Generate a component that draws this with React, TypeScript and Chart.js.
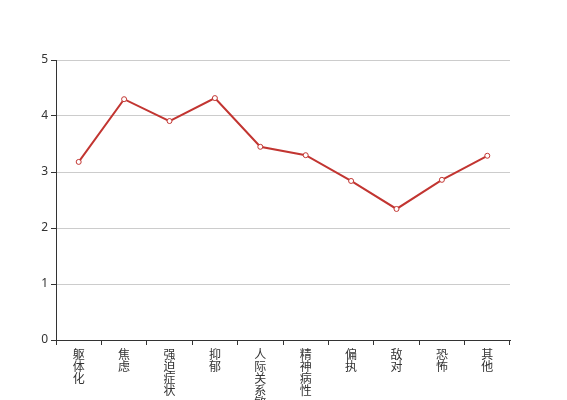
import React, { useEffect, useRef } from "react";
import { Chart, registerables } from "chart.js";

Chart.register(...registerables);

const categories = ["躯体化", "焦虑", "强迫症状", "抑郁", "人际关系敏感", "精神病性", "偏执", "敌对", "恐怖", "其他"];
const values = [3.18, 4.3, 3.91, 4.32, 3.45, 3.3, 2.84, 2.34, 2.86, 3.29];
const yTicks = [0, 1, 2, 3, 4, 5];

export default function App() {
  const ref = useRef<HTMLCanvasElement>(null);
  useEffect(() => {
    document.body.style.margin = "0";
    const ctx = ref.current!;
    const font = { family: "'Noto Sans', 'Noto Sans CJK SC', sans-serif", size: 12 };
    const chart = new Chart(ctx, {
      type: "line",
      data: {
        labels: categories.map((c) => c.split("")),
        datasets: [
          {
            data: values,
            borderColor: "#c23531",
            backgroundColor: "#ffffff",
            pointBackgroundColor: "#ffffff",
            pointBorderColor: "#c23531",
            pointBorderWidth: 1,
            pointRadius: 2.5,
            borderWidth: 2,
            tension: 0,
            fill: false,
          },
        ],
      },
      options: {
        responsive: false,
        animation: false,
        layout: { padding: { top: 60, right: 57, left: 0, bottom: 0 } },
        plugins: { legend: { display: false }, tooltip: { enabled: false } },
        scales: {
          x: {
            offset: true,
            grid: {
              offset: true,
              display: true,
              drawOnChartArea: false,
              drawTicks: true,
              tickLength: 5,
              color: "#333333",
              tickColor: "#333333",
            },
            border: { color: "#333333", width: 1 },
            ticks: {
              color: "#333333",
              font: { ...font, lineHeight: 1.0 },
              maxRotation: 0,
              minRotation: 0,
              autoSkip: false,
              padding: 5,
            },
            afterFit: (scale: any) => {
              scale.height = 60;
            },
          },
          y: {
            min: 0,
            max: 5,
            afterBuildTicks: (scale: any) => {
              scale.ticks = yTicks.map((v) => ({ value: v }));
            },
            grid: {
              color: "#cccccc",
              tickColor: "#333333",
              tickLength: 5,
              drawTicks: true,
            },
            border: { color: "#333333", width: 1 },
            ticks: { color: "#333333", font, padding: 3 },
            afterFit: (scale: any) => {
              scale.width = 56;
            },
          },
        },
      },
    });
    return () => chart.destroy();
  }, []);
  return (
    <div style={{ position: "absolute", left: 0, top: 0, width: 567, height: 400 }}>
      <canvas ref={ref} width={567} height={400} />
    </div>
  );
}
